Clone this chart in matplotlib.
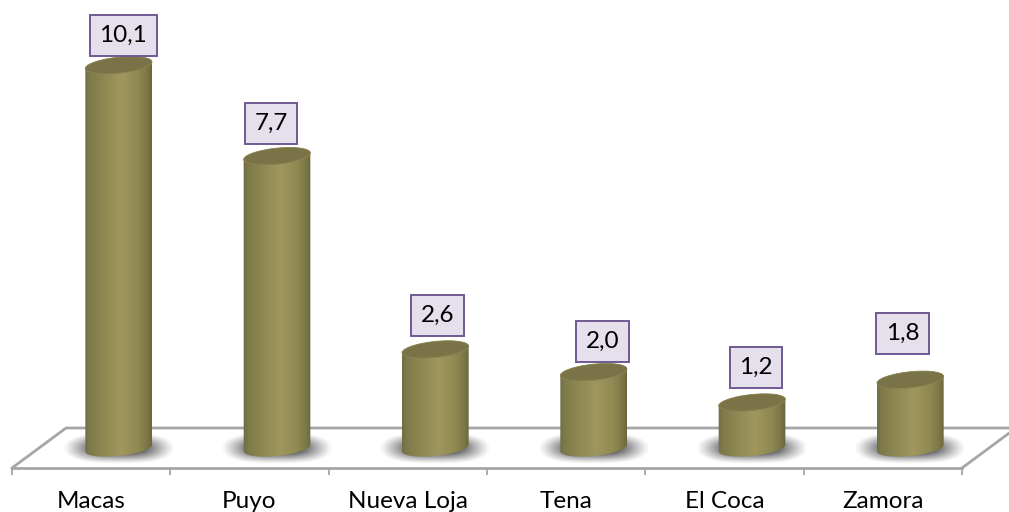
import numpy as np
import matplotlib
matplotlib.use('Agg')
import matplotlib.pyplot as plt
from matplotlib.patches import Polygon, Rectangle
from matplotlib.transforms import IdentityTransform

plt.rcParams['font.family'] = ['Lato', 'DejaVu Sans']

cities = ['Macas', 'Puyo', 'Nueva Loja', 'Tena', 'El Coca', 'Zamora']
values = [10.1, 7.7, 2.6, 2.0, 1.2, 1.8]
value_labels = ['10,1', '7,7', '2,6', '2,0', '1,2', '1,8']

# where each label box sits relative to the top of its bar (pixels)
label_dx = [4.5, -6, 2, 9, 4, -8]
label_dy = [30, 33, 34, 31, 35, 46]

W, H = 1009, 512
line_col = '#a6a6a6'

fig = plt.figure(figsize=(W / 100, H / 100), dpi=100)
# bottom spine of the axes is the front edge of the floor
ax = fig.add_axes([12 / W, (H - 468) / H, 950 / W, 468 / H])
ax.patch.set_alpha(0)
ax.set_xlim(-0.5, 5.5)
ax.set_ylim(0, 468 / 37.9)
for s in ['top', 'left', 'right']:
    ax.spines[s].set_visible(False)
ax.spines['bottom'].set_color(line_col)
ax.spines['bottom'].set_linewidth(2.0)
ax.set_yticks([])
ax.set_xticks(np.arange(-0.5, 6))
ax.set_xticklabels([])
ax.tick_params(axis='x', length=5, width=1.3, color=line_col)
for i, c in enumerate(cities):
    ax.annotate(c, (i, 0), xytext=(0, -34), xycoords='data', textcoords='offset pixels',
                ha='center', va='center', fontsize=17.5, color='black', annotation_clip=False)

ident = IdentityTransform()
depth_x, depth_y = 27.5, 20
floor_x, floor_y = 54, 40


def px(i, v):
    return ax.transData.transform((i, v))


# back part of the floor
x0, y0 = px(-0.5, 0)
x1, y1 = px(5.5, 0)
ax.plot([x0, x0 + floor_x, x1 + floor_x, x1], [y0, y0 + floor_y, y1 + floor_y, y1],
        color=line_col, lw=2.0, transform=ident, clip_on=False, zorder=1,
        solid_joinstyle='miter')

a, b = 33.5, 8
tilt = np.radians(6)


def ell_points(cx, cy, t):
    ex = a * np.cos(t)
    ey = b * np.sin(t)
    return np.column_stack([cx + ex * np.cos(tilt) - ey * np.sin(tilt),
                            cy + ex * np.sin(tilt) + ey * np.cos(tilt)])


# horizontal shading across the cylinder
stops = [0, 0.08, 0.3, 0.55, 0.8, 0.93, 1]
shade = ['#6e6b42', '#7f7a4b', '#8f8952', '#a0975f', '#8e8851', '#7a7544', '#66633a']
shade_rgb = np.array([matplotlib.colors.to_rgb(c) for c in shade])
grad_t = np.linspace(0, 1, 134)
grad = np.stack([np.interp(grad_t, stops, shade_rgb[:, k]) for k in range(3)], axis=1)[None, :, :]

# soft shadow on the floor
sx = np.linspace(-1, 1, 160)
sy = np.linspace(-1, 1, 60)
gx, gy = np.meshgrid(sx, sy)
r = (np.abs(gx) ** 3 + np.abs(gy) ** 2.2) ** (1 / 2.4)
shadow = np.zeros(r.shape + (4,))
shadow[..., :3] = matplotlib.colors.to_rgb('#66666a')
shadow[..., 3] = np.clip((1 - r) / 0.6, 0, 1) ** 1.2

t_edge = np.arctan2(-b * np.sin(tilt), a * np.cos(tilt))
renderer = fig.canvas.get_renderer()

for i, v in enumerate(values):
    cx, cy0 = px(i, 0) + (depth_x, depth_y)
    cy1 = px(i, v)[1] + depth_y

    ax.imshow(shadow, extent=(cx - 56, cx + 56, cy0 - 16, cy0 + 16), transform=ident,
              aspect='auto', zorder=2, clip_on=False, interpolation='bilinear')

    tt_low = np.linspace(np.pi + t_edge, 2 * np.pi + t_edge, 50)
    tt_up = np.linspace(t_edge, np.pi + t_edge, 50)
    body = np.vstack([ell_points(cx, cy0, tt_low), ell_points(cx, cy1, tt_up)])
    poly = Polygon(body, closed=True, transform=ident, facecolor='none', edgecolor='none')
    ax.add_patch(poly)
    im = ax.imshow(grad, extent=(cx - a - 1, cx + a + 1, cy0 - 12, cy1 + 12), transform=ident,
                   aspect='auto', zorder=3, interpolation='bilinear')
    im.set_clip_path(poly)

    top = Polygon(ell_points(cx, cy1, np.linspace(0, 2 * np.pi, 80)), closed=True,
                  transform=ident, facecolor='#7b7348', edgecolor='#8c8553', lw=0.6,
                  zorder=4, clip_on=False)
    ax.add_patch(top)

    # box around the value label, sized from the text
    bx = cx + label_dx[i]
    by = cy1 + label_dy[i]
    txt = ax.text(bx, by, value_labels[i], transform=ident, ha='center', va='center',
                  fontsize=17.5, color='black', zorder=6, clip_on=False)
    tw = txt.get_window_extent(renderer).width
    ax.add_patch(Rectangle((bx - tw / 2 - 9.5, by - 20.5), tw + 19, 41, transform=ident,
                           facecolor='#e6e0ec', edgecolor='#6f5a92', lw=1.4, zorder=5,
                           clip_on=False))

ax.set_xlim(-0.5, 5.5)
ax.set_ylim(0, 468 / 37.9)

fig.savefig('out.png', dpi=100)
